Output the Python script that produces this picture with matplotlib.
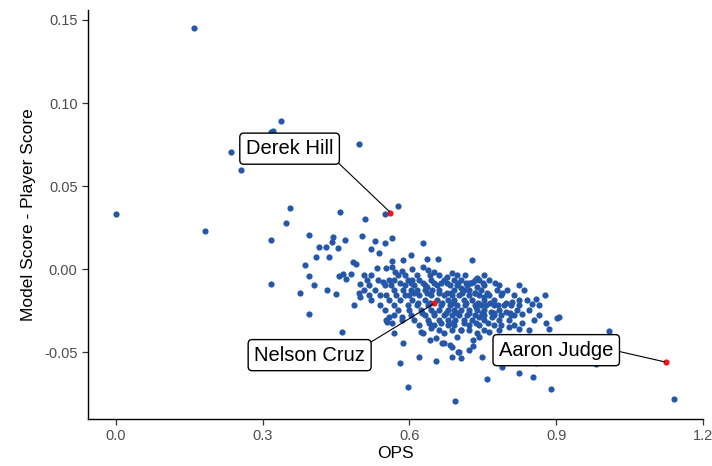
import matplotlib
matplotlib.use("Agg")
import matplotlib.pyplot as plt

# ---- sparse / outlying players (OPS, model - player score) ----
ops_sparse = [0.159, 0.000, 0.182, 0.235, 0.255, 0.316, 0.322, 0.337, 0.496, 0.576,
              0.549, 0.355, 0.347, 0.459, 0.510, 0.394, 0.318, 0.443, 0.441, 0.469,
              0.504, 0.529, 0.551, 0.565, 0.627, 0.416, 0.429, 0.453, 0.522, 0.537,
              0.604, 0.410, 0.435, 0.484, 0.490, 0.386, 0.533, 0.565, 0.586, 0.635,
              0.659, 0.727, 0.394, 0.455, 0.465, 0.471, 0.480, 0.316, 0.404, 0.376,
              0.431, 0.449, 0.498, 0.496, 0.498, 0.486, 0.394, 0.463, 0.559, 0.584]
score_sparse = [0.145, 0.0336, 0.0228, 0.0708, 0.060, 0.0825, 0.083, 0.089, 0.0756, 0.0384,
                0.0336, 0.0372, 0.0276, 0.0348, 0.030, 0.0204, 0.0174, 0.0192, 0.0162, 0.0174,
                0.0198, 0.0168, 0.0156, 0.0186, 0.0156, 0.0132, 0.0132, 0.0126, 0.012, 0.0096,
                0.0084, 0.0072, 0.0072, 0.0042, 0.003, 0.0024, 0.0006, 0.0048, 0.0054, 0.006,
                0.006, 0.0054, -0.0042, -0.0042, -0.003, -0.006, -0.003, -0.009, -0.0096, -0.0144,
                -0.0126, -0.015, -0.009, -0.0144, -0.0168, -0.0216, -0.027, -0.0378, -0.0288, -0.0288]

# ---- edge of the main cluster ----
ops_edge = [0.553, 0.565, 0.571, 0.584, 0.606, 0.627, 0.637, 0.651, 0.686, 0.676,
            0.665, 0.692, 0.716, 0.733, 0.706, 0.739, 0.545, 0.559, 0.580, 0.606,
            0.604, 0.586, 0.635, 0.647, 0.676, 0.553, 0.573,
            0.739, 0.729, 0.722, 0.778, 0.788, 0.763, 0.753, 0.733, 0.810, 0.808,
            0.794, 0.773, 0.757, 0.737, 0.859, 0.851, 0.902, 0.767, 0.788, 0.808,
            0.743, 0.798, 0.829, 0.769, 0.880, 0.886, 0.831, 0.804, 0.788, 0.824,
            0.845, 1.008, 0.763, 0.743, 0.729, 0.686, 0.706, 0.749, 0.790, 0.859,
            0.982, 0.824, 0.853, 0.759, 0.890, 0.906, 1.141, 0.694,
            0.580, 0.596, 0.620, 0.655, 0.586, 0.569, 0.555, 0.565, 0.584, 0.667,
            0.682, 0.700, 0.627, 0.641, 0.655, 0.702, 0.722, 0.671, 0.686, 0.553,
            0.624, 0.645, 0.671, 0.698, 0.729, 0.706, 0.739]
score_edge = [0.0006, 0.0012, -0.0018, -0.0012, 0.0, 0.0012, -0.0006, -0.0018, -0.0024, -0.0048,
              -0.0084, -0.0066, -0.0084, -0.0066, -0.0114, -0.0108, -0.0078, -0.0066, -0.0084, -0.0066,
              -0.0126, -0.0126, -0.0108, -0.0126, -0.0144, -0.0156, -0.0156,
              -0.0054, -0.0078, -0.0084, -0.0126, -0.0156, -0.0156, -0.0168, -0.0144, -0.0198, -0.0216,
              -0.0216, -0.0216, -0.0216, -0.0228, -0.018, -0.021, -0.0294, -0.0258, -0.0276, -0.0276,
              -0.0288, -0.0258, -0.027, -0.0288, -0.0324, -0.036, -0.0324, -0.0348, -0.0336, -0.036,
              -0.0366, -0.0372, -0.0378, -0.0408, -0.0462, -0.0528, -0.0534, -0.0528, -0.0588, -0.0564,
              -0.057, -0.0624, -0.0648, -0.066, -0.072, -0.0288, -0.078, -0.079,
              -0.0564, -0.0708, -0.0528, -0.0552, -0.0444, -0.0384, -0.0318, -0.0324, -0.0306, -0.0444,
              -0.0456, -0.0498, -0.0384, -0.0426, -0.0414, -0.0498, -0.0486, -0.0444, -0.0468, -0.0306,
              -0.0378, -0.0354, -0.0384, -0.0408, -0.0426, -0.0366, -0.0384]

# ---- dense core of the cluster ----
ops_core = [0.508, 0.522, 0.576, 0.590, 0.616, 0.641, 0.661, 0.698, 0.714, 0.753,
            0.514, 0.535, 0.569, 0.596, 0.620, 0.645, 0.671, 0.706, 0.743, 0.763,
            0.518, 0.549, 0.563, 0.590, 0.610, 0.631, 0.657, 0.682, 0.698, 0.718, 0.753, 0.784, 0.824,
            0.508, 0.529, 0.569, 0.616, 0.631, 0.661, 0.692, 0.712, 0.722, 0.747, 0.800, 0.835,
            0.518, 0.539, 0.590, 0.600, 0.620, 0.645, 0.671, 0.686, 0.702, 0.722, 0.743, 0.814, 0.876,
            0.522, 0.559, 0.580, 0.606, 0.631, 0.657, 0.678, 0.692, 0.712, 0.727, 0.753, 0.773, 0.824, 0.841,
            0.539, 0.569, 0.596, 0.616, 0.637, 0.665, 0.682, 0.698, 0.714, 0.733, 0.747, 0.780, 0.824, 0.865,
            0.549, 0.576, 0.600, 0.624, 0.645, 0.661, 0.678, 0.692, 0.706, 0.722, 0.739, 0.753, 0.784, 0.820, 0.845,
            0.569, 0.604, 0.631, 0.651, 0.671, 0.686, 0.702, 0.718, 0.733, 0.753, 0.773, 0.814, 0.865,
            0.610, 0.637, 0.661, 0.678, 0.694, 0.712, 0.727, 0.753, 0.784, 0.804, 0.855,
            0.620, 0.651, 0.678, 0.692, 0.722, 0.743, 0.773, 0.814,
            0.661, 0.686, 0.706, 0.722, 0.753, 0.784]
score_core = [-0.0036] * 10 + [-0.0066] * 10 + [-0.0096] * 13 + [-0.0126] * 12 + \
             [-0.0156] * 13 + [-0.0186] * 14 + [-0.0216] * 14 + [-0.0246] * 15 + \
             [-0.0276] * 13 + [-0.0306] * 11 + [-0.0336] * 8 + [-0.0366] * 6

# ---- extra players filling the densest part ----
ops_fill = [0.604, 0.627, 0.651, 0.676, 0.700, 0.725, 0.750, 0.775,
            0.610, 0.635, 0.660, 0.684, 0.708, 0.733, 0.758, 0.790,
            0.618, 0.642, 0.667, 0.690, 0.715, 0.740, 0.765, 0.798,
            0.625, 0.650, 0.674, 0.698, 0.722, 0.748, 0.772, 0.806,
            0.640, 0.664, 0.688, 0.712, 0.736, 0.760]
score_fill = [-0.0081, -0.0081, -0.0081, -0.0081, -0.0081, -0.0081, -0.0081, -0.0081,
              -0.0141, -0.0141, -0.0141, -0.0141, -0.0141, -0.0141, -0.0141, -0.0141,
              -0.0201, -0.0201, -0.0201, -0.0201, -0.0201, -0.0201, -0.0201, -0.0201,
              -0.0261, -0.0261, -0.0261, -0.0261, -0.0261, -0.0261, -0.0261, -0.0261,
              -0.0321, -0.0321, -0.0321, -0.0321, -0.0321, -0.0321]

# ---- highlighted players ----
names = ["Derek Hill", "Nelson Cruz", "Aaron Judge"]
ops_hi = [0.561, 0.651, 1.124]
score_hi = [0.0342, -0.0204, -0.0558]
label_ops = [0.355, 0.396, 0.900]
label_score = [0.0726, -0.0516, -0.0486]
seg_anchor = [(1.0, 0.0), (1.0, 1.0), (1.0, 0.5)]

x_ticks = [0.0, 0.3, 0.6, 0.9, 1.2]
y_ticks = [-0.05, 0.00, 0.05, 0.10, 0.15]

plt.rcParams['font.family'] = ['Liberation Sans', 'DejaVu Sans']

fig = plt.figure(figsize=(7.12, 4.66), dpi=100)
ax = fig.add_axes([0.1236, 0.1009, 0.8638, 0.8776])

blue = "#2457A8"
ax.scatter(ops_sparse + ops_edge + ops_core + ops_fill,
           score_sparse + score_edge + score_core + score_fill,
           s=20, color=blue, linewidths=0, zorder=2)
ax.scatter(ops_hi, score_hi, s=20, color="#F0161B", linewidths=0, zorder=3)

for n, px, py, lx, ly, rp in zip(names, ops_hi, score_hi, label_ops, label_score, seg_anchor):
    ax.annotate(n, xy=(px, py), xytext=(lx, ly), ha="center", va="center",
                fontsize=14.5, color="black", zorder=4,
                bbox=dict(boxstyle="round,pad=0.3,rounding_size=0.2", fc="white",
                          ec="black", lw=1.0),
                arrowprops=dict(arrowstyle="-", color="black", lw=0.8,
                                shrinkA=0, shrinkB=1, relpos=rp))

ax.set_xlim(-0.057, 1.198)
ax.set_ylim(-0.090, 0.156)
ax.set_xticks(x_ticks)
ax.set_xticklabels([f"{v:.1f}" for v in x_ticks])
ax.set_yticks(y_ticks)
ax.set_yticklabels([f"{v:.2f}" for v in y_ticks])
ax.tick_params(axis="both", labelsize=10.5, colors="#333333", length=4, width=0.9)
ax.tick_params(axis="both", labelcolor="#4D4D4D")
for s in ["top", "right"]:
    ax.spines[s].set_visible(False)
for s in ["left", "bottom"]:
    ax.spines[s].set_color("black")
    ax.spines[s].set_linewidth(1.0)
ax.set_xlabel("OPS", fontsize=12.5, labelpad=2)
ax.set_ylabel("Model Score - Player Score", fontsize=12.5, labelpad=6)

fig.savefig("out.png", dpi=100)
